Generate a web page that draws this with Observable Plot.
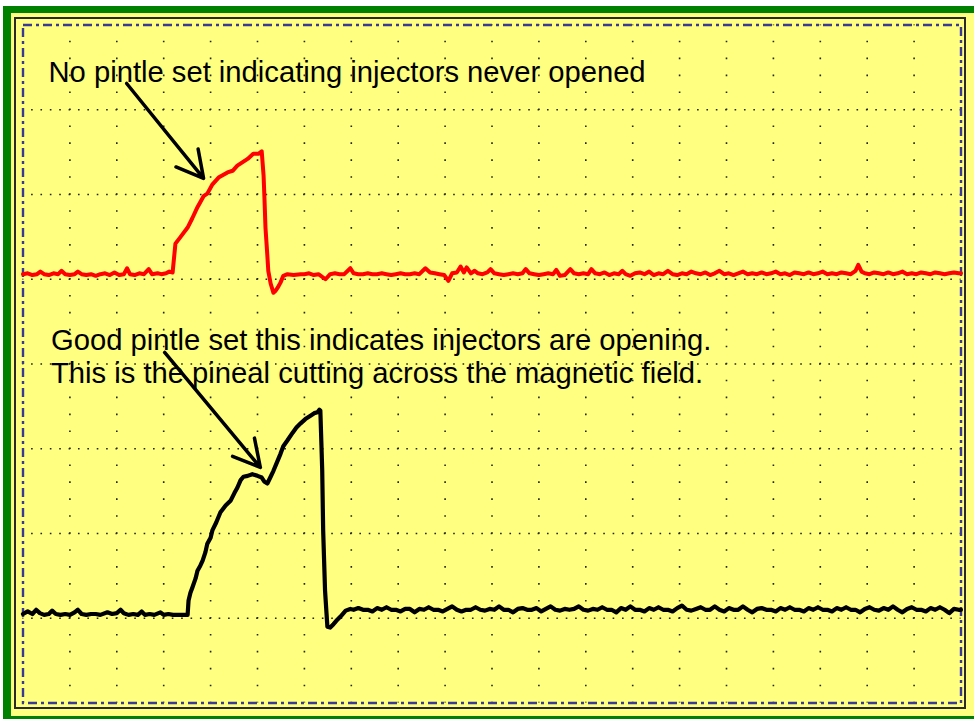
<!DOCTYPE html>
<html><head><meta charset="utf-8">
<script src="https://cdn.jsdelivr.net/npm/d3@7"></script>
<script src="https://cdn.jsdelivr.net/npm/@observablehq/plot@0.6"></script>
<style>
html,body{margin:0;padding:0;background:#ffff80;overflow:hidden}
.b{position:absolute}
#w1{left:0;top:0;width:2000px;height:6px;background:#fff}
#w2{left:0;top:0;width:3px;height:2000px;background:#fff}
#g1{left:3px;top:6px;width:2000px;height:7px;background:#008000}
#g2{left:3px;top:6px;width:8px;height:2000px;background:#008000}
#g3{left:3px;top:716px;width:2000px;height:20px;background:#008000}
#edge{left:14px;top:17px;width:948px;height:688px;border:2px solid #2a2a2a}
#chart{left:0;top:0}
</style></head><body>
<div class="b" id="w1"></div><div class="b" id="w2"></div>
<div class="b" id="g1"></div><div class="b" id="g2"></div><div class="b" id="g3"></div>
<div class="b" id="edge"></div><div class="b" id="chart"></div>
<script>
// Units: x = time in screen divisions (0..20), y = signal in divisions (-4..4)
const vGrid = [1,2,3,4,5,6,7,8,9,10,11,12,13,14,15,16,17,18,19];
const hGrid = [-3,-2,-1,0,1,2,3];

// Red trace: injector that never opened
const redTrace = [
[0.00,1.06],[0.10,1.07],[0.20,1.05],[0.30,1.06],[0.37,1.09],[0.45,1.06],[0.55,1.05],[0.65,1.07],[0.75,1.06],[0.82,1.10],
[0.90,1.06],[1.00,1.05],[1.10,1.06],[1.17,1.09],[1.25,1.06],[1.35,1.05],[1.45,1.06],[1.55,1.04],[1.65,1.06],[1.75,1.07],
[1.85,1.05],[1.95,1.08],[2.05,1.05],[2.15,1.06],[2.22,1.13],[2.28,1.06],[2.38,1.05],[2.48,1.07],[2.58,1.06],[2.68,1.12],
[2.75,1.06],[2.87,1.07],[2.95,1.06],[3.05,1.07],[3.12,1.09],[3.19,1.08],
[3.25,1.42],[3.36,1.50],[3.51,1.61],[3.61,1.72],[3.72,1.85],[3.85,1.98],[3.93,2.01],[4.04,2.12],[4.17,2.20],[4.36,2.26],
[4.47,2.28],[4.57,2.34],[4.79,2.42],[4.91,2.48],[5.02,2.48],[5.09,2.51],
[5.13,2.22],[5.15,1.93],[5.17,1.61],[5.21,1.28],[5.23,1.10],[5.28,0.95],[5.34,0.84],[5.38,0.86],[5.43,0.90],[5.49,0.96],
[5.55,1.04],[5.64,1.06],[5.77,1.05],[5.92,1.06],
[6.00,1.06],[6.10,1.07],[6.20,1.05],[6.30,1.06],[6.45,1.00],[6.55,1.06],[6.65,1.07],[6.75,1.06],[6.85,1.06],[6.98,1.13],
[7.05,1.07],[7.15,1.06],[7.25,1.06],[7.35,1.07],[7.45,1.06],[7.55,1.06],[7.65,1.07],[7.75,1.06],[7.85,1.05],[7.95,1.06],
[8.05,1.07],[8.15,1.06],[8.25,1.06],[8.35,1.07],[8.45,1.06],[8.58,1.13],[8.68,1.08],[8.78,1.07],[8.88,1.06],[8.98,1.05],
[9.07,0.98],[9.15,1.07],[9.25,1.08],[9.33,1.15],[9.40,1.08],[9.46,1.14],[9.55,1.07],[9.63,1.10],[9.70,1.07],[9.80,1.06],
[9.90,1.08],[9.97,1.12],[10.05,1.07],[10.15,1.06],[10.25,1.05],[10.35,1.06],[10.45,1.07],[10.55,1.06],[10.65,1.07],[10.72,1.12],
[10.80,1.07],[10.90,1.06],[11.00,1.05],[11.10,1.06],[11.20,1.07],[11.30,1.06],[11.37,1.11],[11.45,1.04],[11.55,1.05],[11.67,1.12],
[11.75,1.07],[11.85,1.06],[11.95,1.07],[12.05,1.06],[12.12,1.12],[12.20,1.07],[12.30,1.06],[12.40,1.08],[12.50,1.05],[12.60,1.07],
[12.70,1.06],[12.78,1.10],[12.85,1.06],[12.95,1.04],[13.05,1.07],[13.15,1.08],[13.25,1.06],[13.35,1.09],[13.45,1.05],[13.55,1.07],
[13.65,1.06],[13.75,1.10],[13.85,1.06],[13.95,1.05],[14.05,1.07],[14.15,1.06],[14.25,1.09],[14.35,1.07],[14.45,1.06],[14.55,1.08],
[14.65,1.05],[14.75,1.07],[14.85,1.10],[14.95,1.06],[15.05,1.07],[15.15,1.05],[15.25,1.07],[15.35,1.09],[15.45,1.06],[15.55,1.07],
[15.65,1.06],[15.75,1.08],[15.85,1.06],[15.95,1.07],[16.05,1.09],[16.15,1.06],[16.25,1.07],[16.35,1.05],[16.45,1.08],[16.55,1.07],
[16.65,1.06],[16.75,1.08],[16.85,1.06],[16.95,1.07],[17.05,1.09],[17.15,1.06],[17.25,1.07],[17.35,1.06],[17.45,1.08],[17.55,1.07],
[17.65,1.06],[17.75,1.10],[17.81,1.17],[17.88,1.09],[17.95,1.07],[18.05,1.06],[18.15,1.08],[18.25,1.07],[18.35,1.06],[18.45,1.08],
[18.55,1.06],[18.65,1.07],[18.75,1.09],[18.85,1.06],[18.95,1.07],[19.05,1.06],[19.15,1.08],[19.25,1.07],[19.35,1.06],[19.45,1.08],
[19.55,1.07],[19.65,1.06],[19.75,1.07],[19.85,1.08],[19.95,1.07],[20.00,1.07]
];

// Black trace: good pintle, injector opening
const blackTrace = [
[0.00,-2.95],[0.10,-2.92],[0.20,-2.95],[0.28,-2.90],[0.36,-2.94],[0.45,-2.96],[0.55,-2.95],[0.62,-2.91],[0.70,-2.95],[0.80,-2.96],
[0.90,-2.95],[1.00,-2.96],[1.10,-2.93],[1.17,-2.90],[1.25,-2.95],[1.35,-2.96],[1.45,-2.95],[1.55,-2.95],[1.65,-2.96],[1.80,-2.93],
[1.90,-2.95],[2.00,-2.94],[2.08,-2.90],[2.15,-2.94],[2.25,-2.96],[2.35,-2.95],[2.45,-2.96],[2.53,-2.92],[2.60,-2.96],[2.70,-2.95],
[2.80,-2.96],[2.93,-2.93],[3.00,-2.96],[3.10,-2.95],[3.20,-2.96],[3.30,-2.96],[3.40,-2.96],[3.51,-2.96],
[3.53,-2.79],[3.57,-2.70],[3.61,-2.64],[3.68,-2.53],[3.72,-2.44],[3.78,-2.38],[3.83,-2.32],[3.89,-2.22],[3.93,-2.12],[4.00,-2.05],
[4.04,-1.96],[4.12,-1.87],[4.21,-1.75],[4.32,-1.67],[4.43,-1.61],[4.51,-1.52],[4.57,-1.46],[4.64,-1.37],[4.70,-1.33],[4.79,-1.32],
[4.89,-1.30],[5.00,-1.32],[5.09,-1.34],[5.15,-1.39],[5.21,-1.41],[5.28,-1.33],[5.34,-1.26],[5.43,-1.14],[5.49,-1.06],[5.55,-0.97],
[5.64,-0.90],[5.75,-0.81],[5.83,-0.75],[5.92,-0.70],[6.02,-0.65],[6.13,-0.61],[6.21,-0.58],[6.28,-0.57],[6.32,-0.54],[6.34,-0.55],
[6.36,-0.90],[6.38,-1.26],[6.40,-1.96],[6.42,-2.32],[6.44,-2.67],[6.47,-2.93],[6.49,-3.10],[6.55,-3.11],[6.62,-3.07],[6.68,-3.03],
[6.77,-2.98],[6.88,-2.91],[6.98,-2.89],
[7.05,-2.90],[7.15,-2.88],[7.25,-2.90],[7.35,-2.90],[7.45,-2.92],[7.55,-2.88],[7.65,-2.90],[7.75,-2.87],[7.85,-2.90],[7.95,-2.90],
[8.05,-2.92],[8.15,-2.89],[8.25,-2.89],[8.35,-2.93],[8.45,-2.89],[8.55,-2.90],[8.65,-2.87],[8.75,-2.90],[8.85,-2.90],[8.95,-2.92],
[9.05,-2.89],[9.15,-2.86],[9.25,-2.90],[9.35,-2.92],[9.45,-2.90],[9.55,-2.90],[9.65,-2.87],[9.75,-2.90],[9.85,-2.91],[9.95,-2.89],
[10.05,-2.90],[10.15,-2.86],[10.25,-2.90],[10.35,-2.90],[10.45,-2.93],[10.55,-2.89],[10.65,-2.88],[10.75,-2.90],[10.85,-2.90],[10.95,-2.88],
[11.05,-2.92],[11.15,-2.89],[11.25,-2.86],[11.35,-2.90],[11.45,-2.91],[11.55,-2.89],[11.65,-2.90],[11.75,-2.89],[11.85,-2.86],[11.95,-2.90],
[12.05,-2.91],[12.15,-2.89],[12.25,-2.90],[12.35,-2.87],[12.45,-2.90],[12.55,-2.90],[12.65,-2.93],[12.75,-2.88],[12.85,-2.90],[12.95,-2.86],
[13.05,-2.90],[13.15,-2.90],[13.25,-2.92],[13.35,-2.88],[13.45,-2.90],[13.55,-2.87],[13.65,-2.90],[13.75,-2.90],[13.85,-2.92],[13.95,-2.88],
[14.05,-2.85],[14.15,-2.90],[14.25,-2.91],[14.35,-2.89],[14.45,-2.87],[14.55,-2.90],[14.65,-2.90],[14.75,-2.86],[14.85,-2.90],[14.95,-2.92],
[15.05,-2.88],[15.15,-2.90],[15.25,-2.90],[15.35,-2.86],[15.45,-2.90],[15.55,-2.93],[15.65,-2.89],[15.75,-2.88],[15.85,-2.90],[15.95,-2.90],
[16.05,-2.92],[16.15,-2.88],[16.25,-2.90],[16.35,-2.87],[16.45,-2.90],[16.55,-2.90],[16.65,-2.92],[16.75,-2.88],[16.85,-2.90],[16.95,-2.87],
[17.05,-2.90],[17.15,-2.90],[17.25,-2.92],[17.35,-2.88],[17.45,-2.90],[17.55,-2.87],[17.65,-2.90],[17.75,-2.90],[17.85,-2.93],[17.95,-2.89],
[18.05,-2.87],[18.15,-2.90],[18.25,-2.91],[18.35,-2.88],[18.45,-2.90],[18.55,-2.86],[18.65,-2.90],[18.75,-2.93],[18.85,-2.89],[18.95,-2.87],
[19.05,-2.90],[19.15,-2.90],[19.25,-2.92],[19.35,-2.88],[19.45,-2.90],[19.55,-2.87],[19.65,-2.90],[19.75,-2.94],[19.85,-2.89],[19.95,-2.90],
[20.00,-2.90]
];

const noteText = [
  "No pintle set indicating injectors never opened",
  "Good pintle set this indicates injectors are opening.",
  "This is the pineal cutting across the magnetic field."
];
const noteX = [0.544, 0.597, 0.597];
const noteY = [3.322, 0.171, -0.230];

const arrowFrom = [[2.21, 3.31], [3.02, 0.136]];
const arrowTo = [[3.85, 2.19], [5.06, -1.22]];

const notes = noteText.map((t, i) => ({text: t, x: noteX[i], y: noteY[i]}));
const arrows = arrowFrom.map((f, i) => ({x1: f[0], y1: f[1], x2: arrowTo[i][0], y2: arrowTo[i][1]}));

const chart = Plot.plot({
  width: 974,
  height: 719,
  marginLeft: 22.5,
  marginRight: 13.5,
  marginTop: 24.5,
  marginBottom: 16.5,
  x: {domain: [0, 20], axis: null},
  y: {domain: [-4, 4], axis: null},
  style: {background: "transparent", overflow: "visible"},
  marks: [
    Plot.ruleX(vGrid, {stroke: "#222", strokeWidth: 1.6, strokeDasharray: "1.6,15.35", strokeDashoffset: 0.8}),
    Plot.ruleY(hGrid, {stroke: "#222", strokeWidth: 1.6, strokeDasharray: "1.6,7.78", strokeDashoffset: 0.8}),
    Plot.frame({stroke: "#3a3a96", strokeWidth: 2.4, strokeDasharray: "9,4,3,4"}),
    Plot.line(redTrace, {x: d => d[0], y: d => d[1], stroke: "#ff0000", strokeWidth: 4, strokeLinejoin: "round"}),
    Plot.line(blackTrace, {x: d => d[0], y: d => d[1], stroke: "#000000", strokeWidth: 4.2, strokeLinejoin: "round"}),
    Plot.arrow(arrows, {x1: "x1", y1: "y1", x2: "x2", y2: "y2", stroke: "#000", strokeWidth: 3.5, headLength: 12.8, headAngle: 57, strokeLinecap: "round"}),
    Plot.text(notes, {x: "x", y: "y", text: "text", textAnchor: "start", lineAnchor: "bottom", fontSize: 29.2, fontFamily: "Liberation Sans, Arial, sans-serif", fill: "#000"})
  ]
});
document.getElementById("chart").appendChild(chart);
</script>
</body></html>
